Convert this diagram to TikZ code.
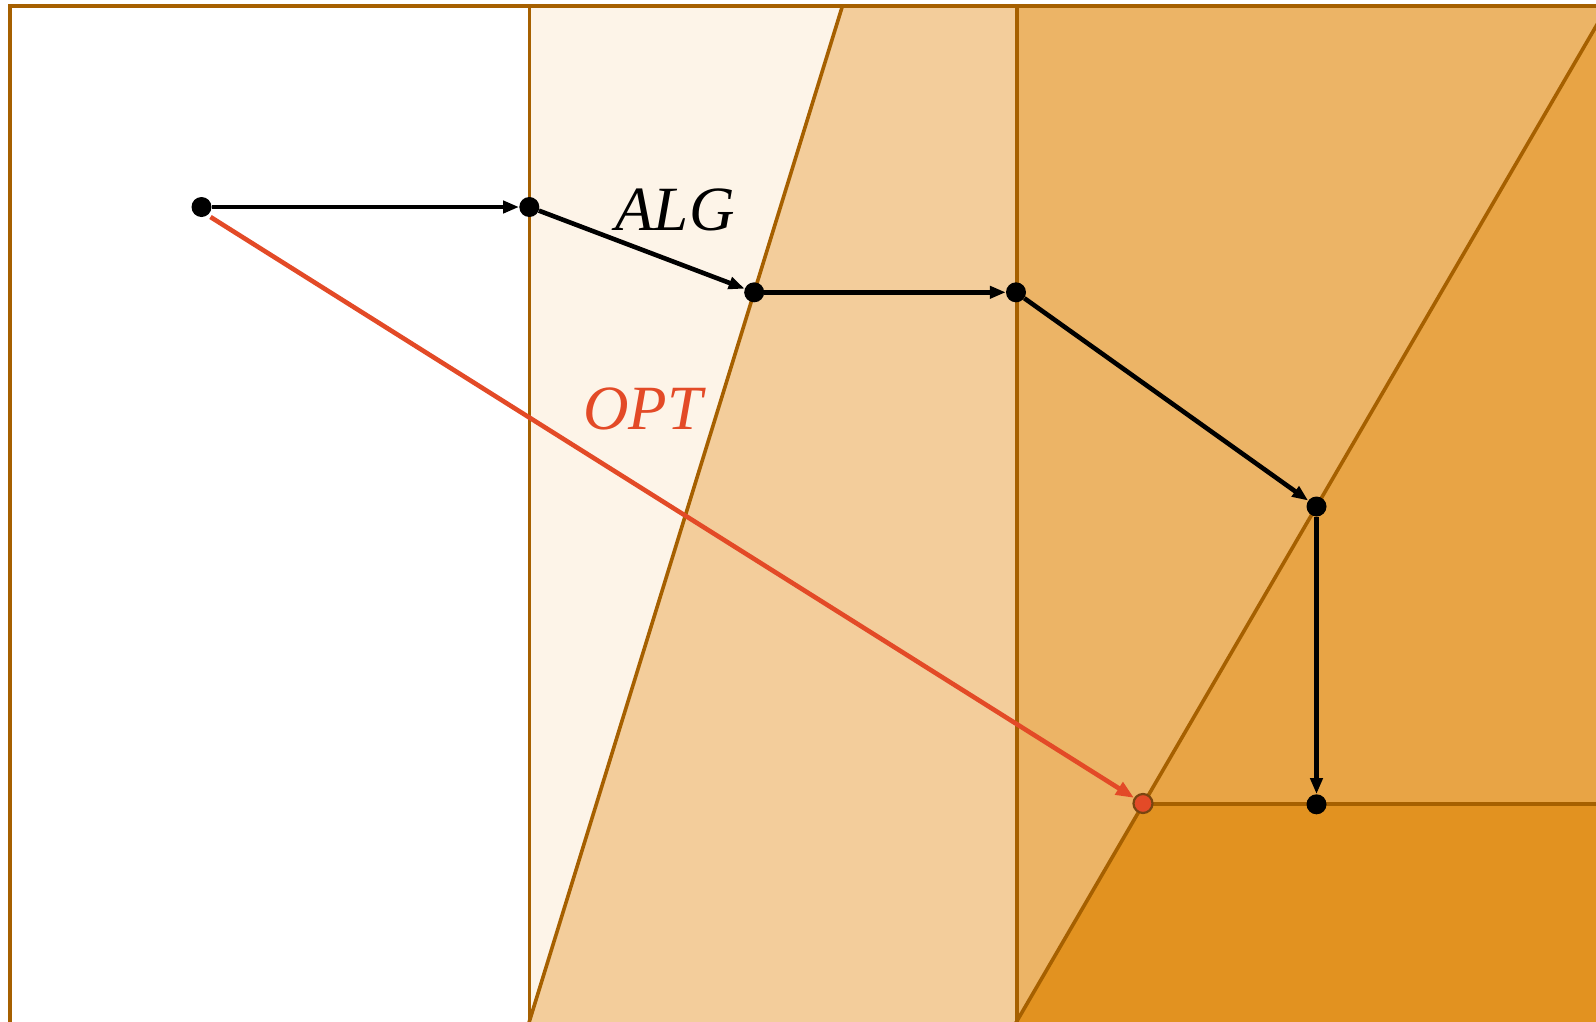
\documentclass[tikz,border=0pt]{standalone}
\usepackage{fontspec}
\setmainfont{Liberation Serif}
\usetikzlibrary{arrows.meta}
\definecolor{edgebrown}{RGB}{166,96,0}
\definecolor{zoneA}{HTML}{FDF4E8}
\definecolor{zoneB}{HTML}{F3CD9B}
\definecolor{zoneC}{HTML}{ECB466}
\definecolor{zoneD}{HTML}{E8A445}
\definecolor{zoneE}{HTML}{E29220}
\definecolor{optred}{HTML}{E34A27}
\definecolor{optrim}{HTML}{7A4510}
\tikzset{
  border/.style={draw=edgebrown, line width=3.6pt},
  dot/.style={circle, fill=black, inner sep=0pt, minimum size=20pt},
  optdot/.style={circle, fill=optred, draw=optrim, line width=2.2pt, inner sep=0pt, minimum size=19pt},
  algarrow/.style={draw=black, line width=4.6pt, -{Triangle[length=16pt,width=12pt]}},
  optarrow/.style={draw=optred, line width=4.6pt, -{Triangle[length=18pt,width=14pt]}},
  lbl/.style={anchor=base, inner sep=0pt, font=\fontsize{63}{63}\selectfont\itshape}
}
\begin{document}
\begin{tikzpicture}[x=1pt,y=-1pt]
\useasboundingbox (0,0) rectangle (1596,1021);
\clip (0,0) rectangle (1596,1021);
% fills
\fill[white] (0,0) rectangle (1596,1021);
\fill[zoneA] (529.5,5.7) -- (842.5,5.7) -- (529.5,1030) -- cycle;
\fill[zoneB] (842.5,5.7) -- (1017,5.7) -- (1017,1030) -- (526.7,1030) -- cycle;
\fill[zoneC] (1017,5.7) rectangle (1700,1030);
\fill[zoneD] (1011.7,1030) -- (1608,5.7) -- (1700,5.7) -- (1700,1030) -- cycle;
\fill[zoneE] (1143,804) -- (1700,804) -- (1700,1030) -- (1011.7,1030) -- cycle;
% boundary lines
\draw[border] (10,1030) -- (10,5.7) -- (1700,5.7);
\draw[border] (529.5,5.7) -- (529.5,1030);
\draw[border] (1017,5.7) -- (1017,1030);
\draw[border] (842.5,5.7) -- (526.7,1030);
\draw[border] (1011.7,1030) -- (1608,5.7);
\draw[border] (1143,804) -- (1700,804);
% points
\node[dot] (p0) at (201.5,207) {};
\node[dot] (p1) at (529.3,207) {};
\node[dot] (p2) at (754.2,292.3) {};
\node[dot] (p3) at (1016,292.3) {};
\node[dot] (p4) at (1316.5,506.5) {};
\node[dot] (p5) at (1316.5,804.3) {};
\node[optdot] (opt) at (1143,803.5) {};
\coordinate (optstart) at (210.5,217);
% ALG path
\draw[algarrow] (p0) -- (p1);
\draw[algarrow] (p1) -- (p2);
\draw[algarrow] (p2) -- (p3);
\draw[algarrow] (p3) -- (p4);
\draw[algarrow] (p4) -- (p5);
% OPT path
\draw[optarrow] (optstart) -- (opt);
% labels
\node[lbl, text=black] (alglabel) at (675,230) {ALG};
\node[lbl, text=optred] (optlabel) at (643,429.5) {OPT};
\end{tikzpicture}
\end{document}
